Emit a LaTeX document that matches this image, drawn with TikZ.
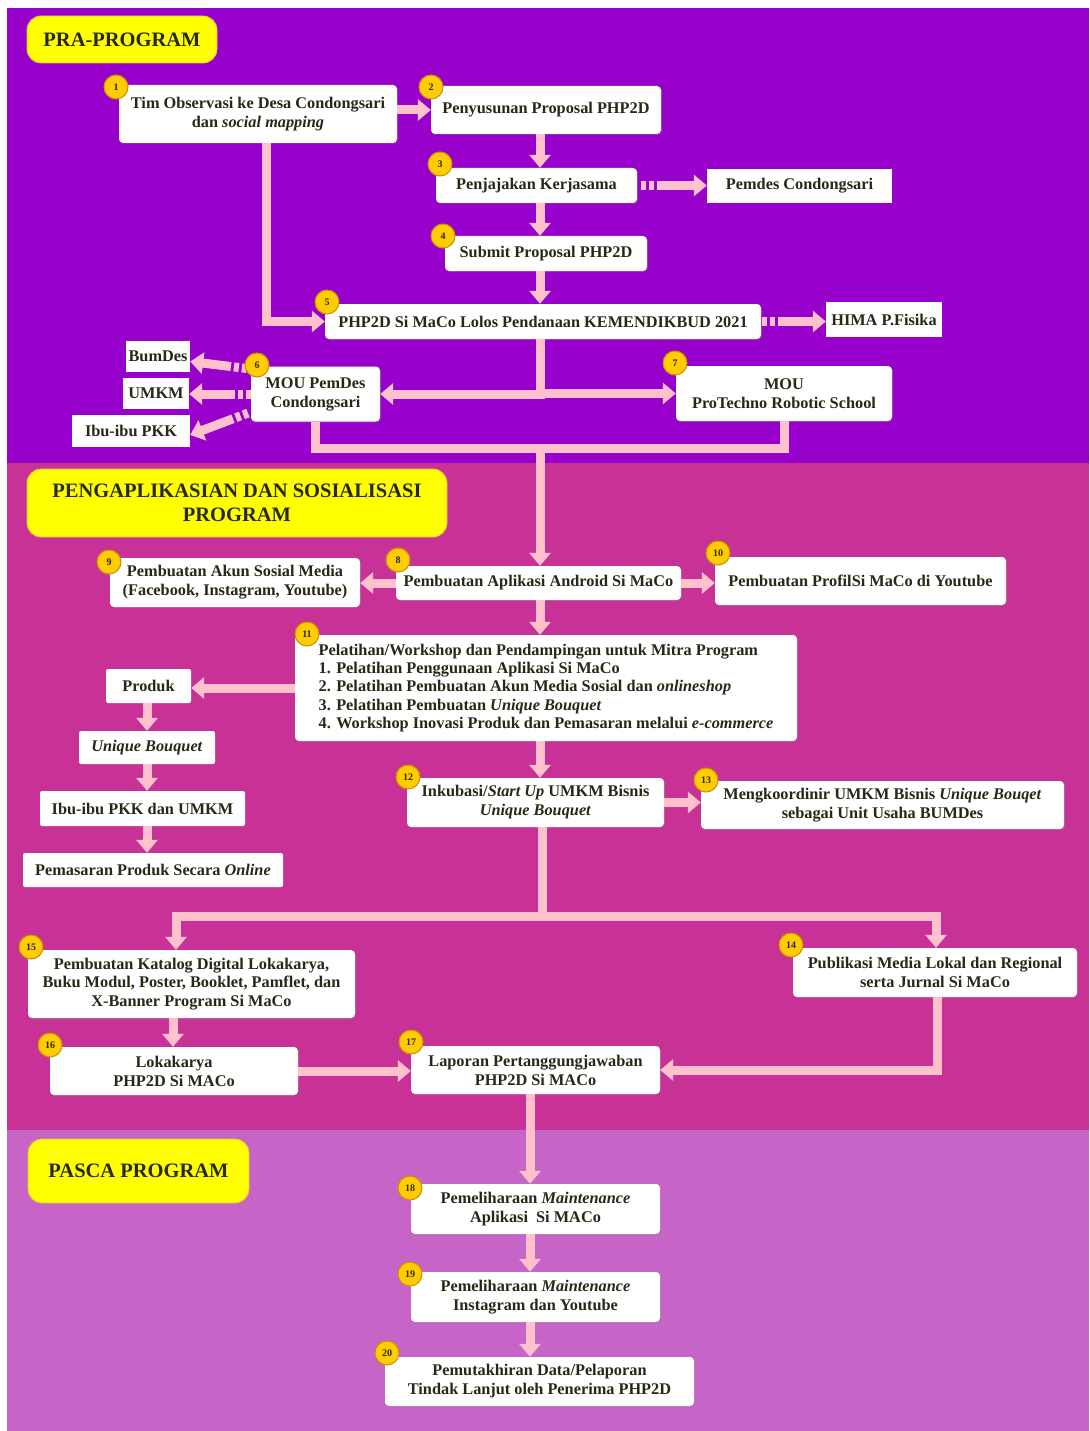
\documentclass[tikz,border=0pt]{standalone}
\usepackage{fontspec}
\setmainfont{Liberation Serif}
\usetikzlibrary{arrows.meta,shadows,calc}
\definecolor{purp}{RGB}{152,0,204}
\definecolor{mage}{RGB}{200,50,150}
\definecolor{lila}{RGB}{199,100,199}
\definecolor{pinkc}{RGB}{255,193,204}
\definecolor{txt}{RGB}{40,40,22}
\definecolor{ylw}{RGB}{255,255,0}
\definecolor{ylwd}{RGB}{235,190,60}
\definecolor{badgef}{RGB}{255,204,0}
\definecolor{badged}{RGB}{200,145,0}
\begin{document}
\begin{tikzpicture}[x=1pt,y=-1pt,
  sz/.style n args={2}{minimum width=#1pt,minimum height=#2pt},
  base/.style={fill=white, align=center, inner sep=0pt, text=txt,
    font=\bfseries\fontsize{16.3}{19}\selectfont},
  box/.style={base, rounded corners=4pt,
    drop shadow={shadow xshift=1.2pt,shadow yshift=-1.2pt,opacity=0.3}},
  sbox/.style={base},
  mbox/.style={base, rounded corners=2pt},
  ylab/.style={fill=ylw, rounded corners=14pt, draw=ylwd, line width=0.8pt,
    text=txt, align=center, inner sep=0pt,
    font=\bfseries\fontsize{20.5}{24}\selectfont},
  badge/.style={circle, fill=badgef, draw=badged, line width=1pt,
    minimum size=24pt, inner sep=0pt, text=txt,
    font=\bfseries\fontsize{10}{10}\selectfont},
  pk/.style={draw=pinkc, line width=9pt},
  conn/.style={pk, -{Triangle[width=21pt,length=13pt]}},
  dconn/.style={conn, dash pattern=on 5pt off 3pt on 5pt off 3pt on 400pt}
]
\fill[white] (0,0) rectangle (1089,1431);
\useasboundingbox (0,0) rectangle (1089,1431);
\fill[purp] (7,8) rectangle (1089,463);
\fill[mage] (7,463) rectangle (1089,1130);
\fill[lila] (7,1130) rectangle (1089,1431);

% section labels
\node[ylab, sz={190}{47}] (lab1) at (122,39.5) {PRA-PROGRAM};
\node[ylab, sz={420}{68}] (lab2) at (237,503) {PENGAPLIKASIAN DAN SOSIALISASI\\PROGRAM};
\node[ylab, sz={221}{64}] (lab3) at (138.5,1171) {PASCA PROGRAM};

% coordinates for connector lines
\coordinate (sp) at (540,0);
\coordinate (sp4) at (530,0);
\coordinate (c1) at (266,0);
\coordinate (cL) at (147,0);
\coordinate (c16) at (173,0);
\coordinate (c14) at (937,0);
\coordinate (jn) at (540,448);
\coordinate (br) at (542,916);
\coordinate (bL) at (176,916);
\coordinate (bR) at (936,916);

% PRA-PROGRAM
\node[box, sz={278}{58}] (n1) at (258,114) {Tim Observasi ke Desa Condongsari\\dan \textit{social mapping}};
\node[box, sz={230}{48}] (n2) at (546,110) {Penyusunan Proposal PHP2D};
\node[box, sz={201}{35}] (n3) at (536.5,185.5) {Penjajakan Kerjasama};
\node[sbox, sz={185}{34}] (pemdes) at (799.5,186) {Pemdes Condongsari};
\node[box, sz={202}{35}] (n4) at (546,253.5) {Submit Proposal PHP2D};
\node[box, sz={436}{35}] (n5) at (543,321.5) {PHP2D Si MaCo Lolos Pendanaan KEMENDIKBUD 2021};
\node[sbox, sz={116}{35}] (hima) at (884,319.5) {HIMA P.Fisika};
\node[box, sz={129}{55}] (n6) at (315.5,394) {MOU PemDes\\Condongsari};
\node[box, sz={216}{55}] (n7) at (784,393.5) {MOU\\ProTechno Robotic School};
\node[sbox, sz={64}{31}] (bum) at (158,356.5) {BumDes};
\node[sbox, sz={66}{31}] (umkm) at (156,393.5) {UMKM};
\node[sbox, sz={118}{32}] (pkk) at (131,431) {Ibu-ibu PKK};

% PENGAPLIKASIAN
\node[box, sz={285}{34}] (n8) at (538.5,583) {Pembuatan Aplikasi Android Si MaCo};
\node[box, sz={250}{49}] (n9) at (235,582.5) {Pembuatan Akun Sosial Media\\(Facebook, Instagram, Youtube)};
\node[box, sz={291}{48}] (n10) at (860.5,581) {Pembuatan ProfilSi MaCo di Youtube};
\node[box, sz={502}{106}, align=left, font=\bfseries\fontsize{16.3}{18.3}\selectfont] (n11) at (546,688)
  {Pelatihan/Workshop dan Pendampingan untuk Mitra Program\\
   1. Pelatihan Penggunaan Aplikasi Si MaCo\\
   2. Pelatihan Pembuatan Akun Media Sosial dan \textit{onlineshop}\\
   3. Pelatihan Pembuatan \textit{Unique Bouquet}\\
   4. Workshop Inovasi Produk dan Pemasaran melalui \textit{e-commerce}};
\node[mbox, sz={85}{34}] (prod) at (148.5,686) {Produk};
\node[mbox, sz={136}{33}] (ub) at (147,747.5) {\textit{Unique Bouquet}};
\node[mbox, sz={205}{35}] (ipkk) at (142.5,808.5) {Ibu-ibu PKK dan UMKM};
\node[mbox, sz={260}{34}] (pem) at (153,870) {Pemasaran Produk Secara \textit{Online}};
\node[box, sz={257}{49}] (n12) at (535.5,802.5) {Inkubasi/\textit{Start Up} UMKM Bisnis\\\textit{Unique Bouquet}};
\node[box, sz={363}{48}] (n13) at (882.5,805) {Mengkoordinir UMKM Bisnis \textit{Unique Bouqet}\\sebagai Unit Usaha BUMDes};
\node[box, sz={327}{68}, font=\bfseries\fontsize{16.3}{18.7}\selectfont] (n15) at (191.5,984) {Pembuatan Katalog Digital Lokakarya,\\Buku Modul, Poster, Booklet, Pamflet, dan\\X-Banner Program Si MaCo};
\node[box, sz={284}{49}] (n14) at (935,972.5) {Publikasi Media Lokal dan Regional\\serta Jurnal Si MaCo};
\node[box, sz={248}{48}] (n16) at (174,1071) {Lokakarya\\PHP2D Si MACo};
\node[box, sz={249}{48}] (n17) at (535.5,1070) {Laporan Pertanggungjawaban\\PHP2D Si MACo};

% PASCA PROGRAM
\node[box, sz={249}{50}] (n18) at (535.5,1209) {Pemeliharaan \textit{Maintenance}\\Aplikasi~ Si MACo};
\node[box, sz={249}{50}] (n19) at (535.5,1297) {Pemeliharaan \textit{Maintenance}\\Instagram dan Youtube};
\node[box, sz={309}{49}] (n20) at (539.5,1381.5) {Pemutakhiran Data/Pelaporan\\Tindak Lanjut oleh Penerima PHP2D};

% connectors: PRA-PROGRAM
\draw[conn] (n2.west -| n1.east) -- (n2.west);
\draw[conn] (n2.south -| sp) -- (n3.north -| sp);
\draw[conn] (n3.south -| sp) -- (n4.north -| sp);
\draw[conn] (n4.south -| sp) -- (n5.north -| sp);
\draw[dconn, shorten <=4pt] (n3.east) -- (n3.east -| pemdes.west);
\draw[dconn, shorten <=1pt] (n5.east) -- (n5.east -| hima.west);
\draw[conn] (n1.south -| c1) |- (n5.west);
\draw[conn] (n5.south -| sp) |- (n6.east);
\draw[conn] (n5.south -| sp) |- (n7.west);
\draw[dconn, shorten <=4pt] ([yshift=25pt]n6.west) -- ([yshift=-5pt]bum.east);
\draw[dconn] (n6.west) -- (n6.west -| umkm.east);
\draw[dconn, shorten <=3pt] ([yshift=-18pt]n6.west) -- ([yshift=-4pt]pkk.east);
\draw[pk] (n6.south) |- (jn) -| (n7.south);
\draw[conn] (jn) -- (n8.north -| jn);

% connectors: PENGAPLIKASIAN
\draw[conn] (n8.west) -- (n8.west -| n9.east);
\draw[conn] (n8.east) -- (n8.east -| n10.west);
\draw[conn] (n8.south -| sp) -- (n11.north -| sp);
\draw[conn] (n11.west) -- (n11.west -| prod.east);
\draw[conn] (prod.south -| cL) -- (ub.north -| cL);
\draw[conn] (ub.south -| cL) -- (ipkk.north -| cL);
\draw[conn] (ipkk.south -| cL) -- (pem.north -| cL);
\draw[conn] (n11.south -| sp) -- (n12.north -| sp);
\draw[conn] (n12.east) -- (n12.east -| n13.west);
\draw[pk] (n12.south -| br) -- (br);
\draw[conn] (br) -- (bL) -- (bL |- n15.north);
\draw[conn] (br) -- (bR) -- (bR |- n14.north);
\draw[conn] (n15.south -| c16) -- (n16.north -| c16);
\draw[conn] (n16.east) -- (n16.east -| n17.west);
\draw[conn] (n14.south -| c14) |- (n17.east);

% connectors: PASCA
\draw[conn] (n17.south -| sp4) -- (n18.north -| sp4);
\draw[conn] (n18.south -| sp4) -- (n19.north -| sp4);
\draw[conn] (n19.south -| sp4) -- (n20.north -| sp4);

% badges
\node[badge] (b1) at (116,87) {1};
\node[badge] (b2) at (431,87) {2};
\node[badge] (b3) at (440,164) {3};
\node[badge] (b4) at (443,236) {4};
\node[badge] (b5) at (327,302) {5};
\node[badge] (b6) at (257,365) {6};
\node[badge] (b7) at (675,363) {7};
\node[badge] (b8) at (398,560) {8};
\node[badge] (b9) at (109,562) {9};
\node[badge] (b10) at (718,553) {10};
\node[badge] (b11) at (307,634) {11};
\node[badge] (b12) at (408,777) {12};
\node[badge] (b13) at (706,780) {13};
\node[badge] (b14) at (791,945) {14};
\node[badge] (b15) at (31,947) {15};
\node[badge] (b16) at (50,1045) {16};
\node[badge] (b17) at (411,1042) {17};
\node[badge] (b18) at (410,1188) {18};
\node[badge] (b19) at (410,1274) {19};
\node[badge] (b20) at (387,1353) {20};
\end{tikzpicture}
\end{document}
